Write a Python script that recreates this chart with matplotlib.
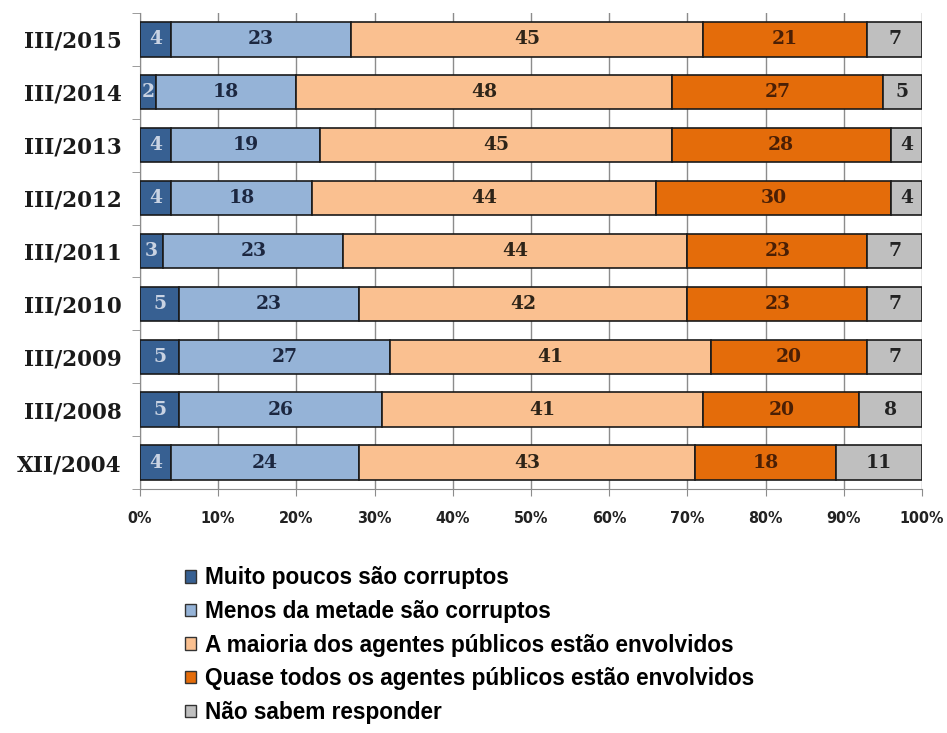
import matplotlib
matplotlib.use('Agg')
import matplotlib.pyplot as plt
from matplotlib.patches import Patch
import numpy as np

periods = ['XII/2004', 'III/2008', 'III/2009', 'III/2010', 'III/2011',
           'III/2012', 'III/2013', 'III/2014', 'III/2015']
muito_poucos = [4, 5, 5, 5, 3, 4, 4, 2, 4]
menos_metade = [24, 26, 27, 23, 23, 18, 19, 18, 23]
maioria = [43, 41, 41, 42, 44, 44, 45, 48, 45]
quase_todos = [18, 20, 20, 23, 23, 30, 28, 27, 21]
nao_sabem = [11, 8, 7, 7, 7, 4, 4, 5, 7]

series_names = ['Muito poucos são corruptos',
                'Menos da metade são corruptos',
                'A maioria dos agentes públicos estão envolvidos',
                'Quase todos os agentes públicos estão envolvidos',
                'Não sabem responder']
series = [muito_poucos, menos_metade, maioria, quase_todos, nao_sabem]
colors = ['#376092', '#95b3d7', '#fac090', '#e46c0a', '#bfbfbf']
text_colors = ['#c9d3e3', '#1c2740', '#2e2418', '#4a1f05', '#222222']

fig = plt.figure(figsize=(9.47, 7.33), dpi=100)
ax = fig.add_axes([0.1478, 0.3329, 0.8258, 0.6494])

y = np.arange(len(periods))
left = np.zeros(len(periods))
for vals, c, tc in zip(series, colors, text_colors):
    vals = np.array(vals, dtype=float)
    ax.barh(y, vals, left=left, height=0.65, color=c, edgecolor='#1a1a1a',
            linewidth=1.2, zorder=3)
    for yi, (l, v) in enumerate(zip(left, vals)):
        ax.text(l + v / 2, yi, f'{int(v)}', ha='center', va='center',
                family='DejaVu Serif', fontweight='bold', fontsize=13.5,
                color=tc, zorder=4)
    left += vals

ax.set_xlim(0, 100)
ax.set_ylim(-0.5, len(periods) - 0.5)
ax.set_xticks(np.arange(0, 101, 10))
ax.set_xticklabels([f'{t}%' for t in range(0, 101, 10)],
                   family='DejaVu Sans', fontweight='bold', fontsize=11.5,
                   fontstretch='condensed', color='#222222')
ax.xaxis.grid(True, color='#8c8c8c', linewidth=1, zorder=0)
ax.set_axisbelow(True)

ax.set_yticks(y)
ax.set_yticklabels(periods, family='DejaVu Serif', fontweight='bold',
                   fontsize=15.5, color='#1a1a1a')
ax.set_yticks(np.arange(-0.5, len(periods), 1), minor=True)
ax.tick_params(axis='y', which='major', length=0, pad=13)
ax.tick_params(axis='y', which='minor', length=6, color='#8c8c8c')
ax.tick_params(axis='x', length=5, color='#8c8c8c', pad=11)

for s in ['top', 'right']:
    ax.spines[s].set_visible(False)
for s in ['left', 'bottom']:
    ax.spines[s].set_color('#8c8c8c')

handles = [Patch(facecolor=c, edgecolor='#333333', linewidth=1) for c in colors]
fig.legend(handles, series_names, loc='upper left',
           bbox_to_anchor=(174 / 947, 1 - 555 / 733), frameon=False,
           prop={'family': 'Liberation Sans', 'weight': 'bold', 'size': 16.3},
           borderpad=0, handlelength=0.48, handleheight=0.48,
           handletextpad=0.4, labelspacing=0.47)

fig.savefig('out.png', dpi=100)
